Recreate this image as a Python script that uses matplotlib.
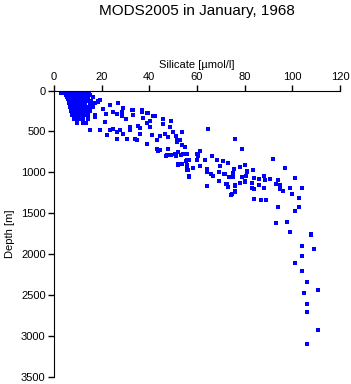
import matplotlib
matplotlib.use('Agg')
import matplotlib.pyplot as plt

plt.rcParams['font.family'] = ['Liberation Sans', 'DejaVu Sans']

# shallow cluster (silicate in umol/l, depth in m)
shallow_si = [6.2, 7.1, 7.6, 8.3, 8.8, 9.4, 9.9, 10.6, 11.2, 12.1, 14.6,
              5.6, 6.4, 7.3, 8.1, 9.2, 10.3, 11.4, 12.4, 13.2,
              6.1, 6.9, 7.8, 8.6, 9.7, 10.2, 11.3, 12.6,
              3.0, 4.2, 5.4, 6.7, 7.4, 9.1, 10.4, 11.7,
              5.1, 6.2, 7.2, 8.1, 8.9, 9.8, 11.1, 12.3, 13.4, 15.2,
              5.3, 6.1, 6.8, 7.7, 8.4, 9.6, 10.7, 11.8, 14.1, 16.4,
              5.8, 6.6, 7.4, 8.7, 9.3, 10.1, 11.2, 12.7, 14.3,
              6.3, 7.2, 7.9, 9.1, 10.2, 10.9, 12.2, 13.6, 15.4, 18.4,
              6.1, 7.3, 8.2, 9.4, 10.3, 11.4, 12.3, 13.2, 15.1, 17.2,
              6.7, 7.6, 8.7, 9.7, 10.6, 11.6, 12.9, 14.7, 16.2,
              7.2, 8.1, 9.3, 10.1, 11.3, 12.2, 13.3, 15.3,
              7.4, 8.4, 9.2, 10.4, 11.6, 13.1, 14.4, 17.4,
              8.6, 9.8, 11.4, 12.3, 14.2,
              9.6, 12.1, 13.4]
shallow_d = [0, 0, 0, 0, 0, 0, 0, 0, 0, 0, 0,
             10, 10, 10, 10, 10, 10, 10, 10, 10,
             20, 20, 20, 20, 20, 20, 20, 20,
             30, 30, 30, 30, 30, 30, 30, 30,
             50, 50, 50, 50, 50, 50, 50, 50, 50, 50,
             75, 75, 75, 75, 75, 75, 75, 75, 75, 75,
             100, 100, 100, 100, 100, 100, 100, 100, 100,
             125, 125, 125, 125, 125, 125, 125, 125, 125, 125,
             150, 150, 150, 150, 150, 150, 150, 150, 150, 150,
             200, 200, 200, 200, 200, 200, 200, 200, 200,
             250, 250, 250, 250, 250, 250, 250, 250,
             300, 300, 300, 300, 300, 300, 300, 300,
             350, 350, 350, 350, 350,
             400, 400, 400]

# intermediate and deep samples
deep_si = [19.3, 23.5, 27, 28.4, 32.6, 36.8, 38.9, 41.7, 45.9, 49,
           17.1, 21.3, 12.2, 15, 19.3, 23.5, 27.7, 31.9, 36.1, 40.3,
           22.1, 26.3, 30.5, 34.7, 38.9, 43.1, 48, 51.5, 43.1, 47.3,
           52.2, 55.8, 60, 52.2, 55.8, 56.8, 60, 60.6,
           26.9, 29.1, 33.3, 24.8, 26.5, 28.4, 30.2, 33.3, 36.8, 39.6,
           42.4, 45.9, 49, 37.5, 38.9, 35.4, 31.9, 26.3, 24.8, 29.1,
           34, 36.1, 41, 43.1, 44.5, 46.6, 50.1, 53.6, 51.5, 53.6,
           55, 48, 44.5, 50.8, 53.6, 55.8, 56.4, 40.3, 45.6, 48.7,
           51.2, 52.9, 16.3, 18.4, 20.5, 22.0,
           43.8, 46.9, 49, 51.1, 53.2, 54.3, 56.8, 55.3, 60.6, 61.3,
           63.2, 66.3, 68.4, 70.7, 52, 53.9, 56, 58.3, 61.3, 64.2,
           69.5, 72.8, 56, 56.8, 64.2, 66, 66.9, 69.1, 69.1, 71.5,
           73.3, 72.6, 75.1, 75.4, 78.2, 80.3, 81, 76.1, 77.9, 80,
           64.2, 72.8, 74.7, 76.1,
           64.8, 76.1, 78.9, 91.8,
           70.9, 72.8, 75.4, 77.9, 80, 83.5, 81, 71.9, 75.1, 78.9,
           80.7, 83.8, 85.9, 88.3, 90.8, 93.9, 96.8, 100.9, 72.3, 76.1,
           77.9, 80, 83.1, 85.9, 88.7, 93.2, 94.7, 94.7, 96, 98.9,
           104, 72.8, 76, 74.3, 82.9, 84, 87.9, 99.8, 102.7, 84,
           86.8, 88.8, 93.9, 102.7, 100.9, 93.2, 97.9, 98.9, 107.7,
           98.9, 107.8, 104, 108.9, 104, 101, 104, 106, 110.7, 104.8,
           106, 106, 110.7, 106]
deep_d = [115, 177, 148, 259, 238, 259, 279, 312, 349, 370,
          321, 382, 402, 484, 484, 484, 484, 484, 463, 443,
          545, 586, 586, 607, 648, 607, 566, 627, 709, 791,
          750, 770, 770, 902, 955, 1058, 853, 803,
          148, 218, 238, 259, 287, 312, 353, 300, 238, 279,
          308, 353, 370, 340, 402, 435, 443, 505, 475, 533,
          586, 525, 537, 607, 558, 525, 512, 512, 607, 668,
          689, 709, 730, 770, 893, 853, 975, 370, 410, 443,
          558, 598, 170, 140, 230, 290,
          742, 800, 787, 803, 791, 771, 844, 861, 791, 742,
          853, 803, 844, 861, 906, 902, 914, 943, 926, 955,
          926, 886, 975, 1049, 996, 1016, 1045, 996, 1111, 1025,
          1058, 1139, 1058, 955, 935, 914, 988, 1160, 1127, 1111,
          1172, 1184, 1270, 1237,
          472, 586, 709, 832,
          865, 886, 955, 935, 910, 975, 996, 1025, 1008, 1058,
          1049, 1070, 1086, 1045, 1078, 1098, 947, 1065, 1139, 1163,
          1127, 1119, 1127, 1151, 1098, 1144, 1160, 1200, 1230, 1197,
          1188, 1180, 1233, 1274, 1188, 1200, 1197, 1267, 1311, 1323,
          1340, 1335, 1418, 1418, 1471, 1614, 1606, 1729, 1758,
          1729, 1762, 1901, 1938, 2028, 2110, 2208, 2347, 2437, 2470,
          2609, 2704, 2933, 3105]

x_ticks = [0, 20, 40, 60, 80, 100, 120]
y_ticks = [0, 500, 1000, 1500, 2000, 2500, 3000, 3500]

fig = plt.figure(figsize=(3.51, 3.84), dpi=100)
ax = fig.add_axes([0.1538, 0.019, 0.815, 0.745])

ax.scatter(shallow_si + deep_si, shallow_d + deep_d, s=5, marker='s',
           color='#0000ff', linewidths=0)

ax.set_xlim(0, 120)
ax.set_ylim(3500, 0)
ax.set_xticks(x_ticks)
ax.set_yticks(y_ticks)
ax.xaxis.tick_top()
ax.xaxis.set_label_position('top')
ax.spines['right'].set_visible(False)
ax.spines['bottom'].set_visible(False)
ax.tick_params(labelsize=8, length=4, width=1, pad=2)
ax.set_xlabel('Silicate [\u00b5mol/l]', fontsize=8, labelpad=3)
ax.set_ylabel('Depth [m]', fontsize=8, labelpad=4)
fig.text(0.561, 0.972, 'MODS2005 in January, 1968', ha='center', va='center',
         fontsize=11)

fig.savefig('out.png', dpi=100)
